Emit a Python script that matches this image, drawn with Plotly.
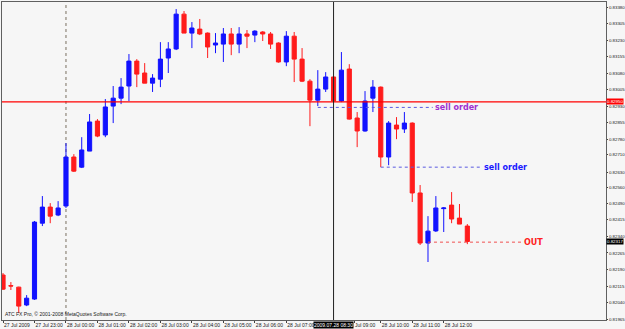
import plotly.graph_objects as go

# ---- data (15-minute bars, 27 Jul 2009 22:00 -> 28 Jul 2009 12:45) ----
bar_index = list(range(60))
opens = [0.82165, 0.82117, 0.82110, 0.82029, 0.82056, 0.82400, 0.82473, 0.82437, 0.82478, 0.82700,
         0.82654, 0.82727, 0.82863, 0.82800, 0.82931, 0.82967, 0.83022, 0.83135, 0.83081, 0.83035,
         0.83053, 0.83149, 0.83190, 0.83348, 0.83262, 0.83280, 0.83262, 0.83208, 0.83212, 0.83258,
         0.83212, 0.83258, 0.83253, 0.83267, 0.83258, 0.83217, 0.83131, 0.83248, 0.83144, 0.83044,
         0.82958, 0.83008, 0.83063, 0.82954, 0.83099, 0.82877, 0.82818, 0.82967, 0.83017, 0.82700,
         0.82845, 0.82827, 0.82854, 0.82537, 0.82310, 0.82365, 0.82466, 0.82482, 0.82423, 0.82387]
highs = [0.82174, 0.82133, 0.82112, 0.82074, 0.82410, 0.82523, 0.82491, 0.82500, 0.82763, 0.82713,
         0.82790, 0.82895, 0.82872, 0.82963, 0.83022, 0.83058, 0.83167, 0.83144, 0.83126, 0.83076,
         0.83221, 0.83221, 0.83371, 0.83362, 0.83312, 0.83326, 0.83265, 0.83262, 0.83285, 0.83285,
         0.83289, 0.83276, 0.83275, 0.83271, 0.83267, 0.83220, 0.83271, 0.83267, 0.83194, 0.83053,
         0.83094, 0.83085, 0.83065, 0.83176, 0.83121, 0.82904, 0.82999, 0.83049, 0.83020, 0.82863,
         0.82881, 0.82904, 0.82857, 0.82573, 0.82432, 0.82523, 0.82473, 0.82541, 0.82487, 0.82396]
lows = [0.82097, 0.82097, 0.81992, 0.82024, 0.82052, 0.82387, 0.82400, 0.82432, 0.82469, 0.82632,
        0.82650, 0.82727, 0.82790, 0.82790, 0.82854, 0.82940, 0.82954, 0.83017, 0.83035, 0.82995,
        0.83017, 0.83081, 0.83185, 0.83262, 0.83194, 0.83253, 0.83149, 0.83171, 0.83131, 0.83162,
        0.83171, 0.83194, 0.83221, 0.83226, 0.83190, 0.83128, 0.83112, 0.83040, 0.83040, 0.82840,
        0.82931, 0.82995, 0.82950, 0.82949, 0.82870, 0.82745, 0.82815, 0.82904, 0.82654, 0.82663,
        0.82781, 0.82809, 0.82496, 0.82301, 0.82224, 0.82360, 0.82360, 0.82400, 0.82396, 0.82305]
closes = [0.82101, 0.82115, 0.82024, 0.82060, 0.82405, 0.82473, 0.82432, 0.82469, 0.82700, 0.82636,
          0.82732, 0.82859, 0.82795, 0.82927, 0.82967, 0.83017, 0.83135, 0.83076, 0.83035, 0.83058,
          0.83144, 0.83190, 0.83348, 0.83262, 0.83285, 0.83258, 0.83199, 0.83217, 0.83258, 0.83212,
          0.83258, 0.83248, 0.83271, 0.83258, 0.83212, 0.83131, 0.83248, 0.83144, 0.83044, 0.82958,
          0.83008, 0.83063, 0.82954, 0.83094, 0.82872, 0.82818, 0.82954, 0.83017, 0.82700, 0.82854,
          0.82827, 0.82854, 0.82537, 0.82310, 0.82364, 0.82469, 0.82469, 0.82419, 0.82396, 0.82317]

# the 08:00 label sits under the crosshair time box in the reference, and only
# the tail of the 09:00 label shows past it
time_tick_bars = [0, 4, 8, 12, 16, 20, 24, 28, 32, 36, 44.6, 48, 52, 56]
time_tick_labels = ["27 Jul 2009", "27 Jul 23:00", "28 Jul 00:00", "28 Jul 01:00", "28 Jul 02:00",
                    "28 Jul 03:00", "28 Jul 04:00", "28 Jul 05:00", "28 Jul 06:00", "28 Jul 07:00",
                    "Jul 09:00", "28 Jul 10:00", "28 Jul 11:00", "28 Jul 12:00"]
price_ticks = [0.83380, 0.83305, 0.83230, 0.83155, 0.83080, 0.83005, 0.82930, 0.82855, 0.82780, 0.82710,
               0.82630, 0.82560, 0.82490, 0.82415, 0.82340, 0.82265, 0.82190, 0.82115, 0.82040, 0.81965]
price_tick_labels = ["%.5f" % v for v in price_ticks]

level_line = 0.82950
last_price = 0.82317
crosshair_bar = 42
crosshair_label = "2009.07.28 08:30"
day_separator_bar = 8

order_names = ["sell order", "sell order", "OUT"]
order_levels = [0.82925, 0.82654, 0.82314]
order_start_bars = [40, 48, 54]
order_end_bars = [54.6, 60.9, 66.0]
order_line_colors = ["#5a5ae0", "#5a5ae0", "#f05050"]
order_text_colors = ["#a030d0", "#1a1aff", "#ff2020"]

copyright_text = "ATC FX Pro, \u00a9 2001-2008 MetaQuotes Software Corp."

BLUE = "#1212ff"
RED = "#ff1c1c"
FONT = "Liberation Sans"

fig = go.Figure()
fig.add_trace(go.Candlestick(
    x=bar_index, open=opens, high=highs, low=lows, close=closes,
    increasing=dict(line=dict(color=BLUE, width=1), fillcolor=BLUE),
    decreasing=dict(line=dict(color=RED, width=1), fillcolor=RED),
    whiskerwidth=0, hoverinfo="skip", showlegend=False,
))

shapes = [
    dict(type="line", xref="paper", x0=0, x1=1, yref="y", y0=level_line, y1=level_line,
         line=dict(color="#ff0000", width=1.2), layer="above"),
    dict(type="line", xref="x", x0=crosshair_bar, x1=crosshair_bar, yref="paper", y0=0, y1=1,
         line=dict(color="#202020", width=1), layer="above"),
    dict(type="line", xref="x", x0=day_separator_bar, x1=day_separator_bar, yref="paper", y0=0, y1=1,
         line=dict(color="#7a7060", width=1, dash="dot"), layer="below"),
]
annotations = []
for name, lvl, x0, x1, lc, tc in zip(order_names, order_levels, order_start_bars, order_end_bars,
                                      order_line_colors, order_text_colors):
    shapes.append(dict(type="line", xref="x", x0=x0, x1=x1, yref="y", y0=lvl, y1=lvl,
                       line=dict(color=lc, width=1, dash="dot"), layer="above"))
    annotations.append(dict(x=x1, y=lvl, xref="x", yref="y", text="<b>%s</b>" % name,
                            showarrow=False, xanchor="left", yanchor="middle", xshift=0,
                            font=dict(family="DejaVu Sans", size=8, color=tc)))

annotations += [
    dict(x=1, y=level_line, xref="paper", yref="y", text="%.5f" % level_line, showarrow=False,
         xanchor="left", yanchor="bottom", yshift=-3, bgcolor="#ff0000", borderpad=0,
         font=dict(family=FONT, size=4.4, color="white")),
    dict(x=1, y=last_price, xref="paper", yref="y", text="%.5f" % last_price, showarrow=False,
         xanchor="left", yanchor="middle", bgcolor="#000000", borderpad=0,
         font=dict(family=FONT, size=4.4, color="white")),
    dict(x=crosshair_bar, y=0, xref="x", yref="paper", text=crosshair_label, showarrow=False,
         xanchor="center", yanchor="top", yshift=-1, bgcolor="#000000", borderpad=0,
         font=dict(family=FONT, size=5, color="white")),
    dict(x=0.002, y=0, xref="paper", yref="paper", text=copyright_text, showarrow=False,
         xanchor="left", yanchor="bottom", yshift=1,
         font=dict(family=FONT, size=5, color="#202020")),
]

fig.update_layout(
    width=625, height=329,
    margin=dict(l=2, r=19, t=2, b=9, autoexpand=False),
    paper_bgcolor="#f6f6f6", plot_bgcolor="#f6f6f6",
    boxgap=0.25,
    shapes=shapes, annotations=annotations,
    showlegend=False,
    xaxis=dict(range=[-0.13, 76.62], showgrid=False, zeroline=False, rangeslider=dict(visible=False),
               automargin=False, tickangle=0,
               tickmode="array", tickvals=time_tick_bars, ticktext=time_tick_labels,
               ticklabelposition="outside right", ticks="outside", ticklen=2, tickcolor="#404040",
               tickfont=dict(family=FONT, size=5, color="#202020"),
               showline=True, mirror=True, linecolor="#606060", linewidth=1),
    yaxis=dict(range=[0.81961, 0.83403], side="right", showgrid=False, zeroline=False,
               automargin=False, ticklabelstandoff=0,
               tickmode="array", tickvals=price_ticks, ticktext=price_tick_labels,
               ticks="outside", ticklen=1, tickcolor="#404040",
               tickfont=dict(family=FONT, size=4.4, color="#202020"),
               showline=True, mirror=True, linecolor="#606060", linewidth=1),
)

fig.write_html("out.html")
